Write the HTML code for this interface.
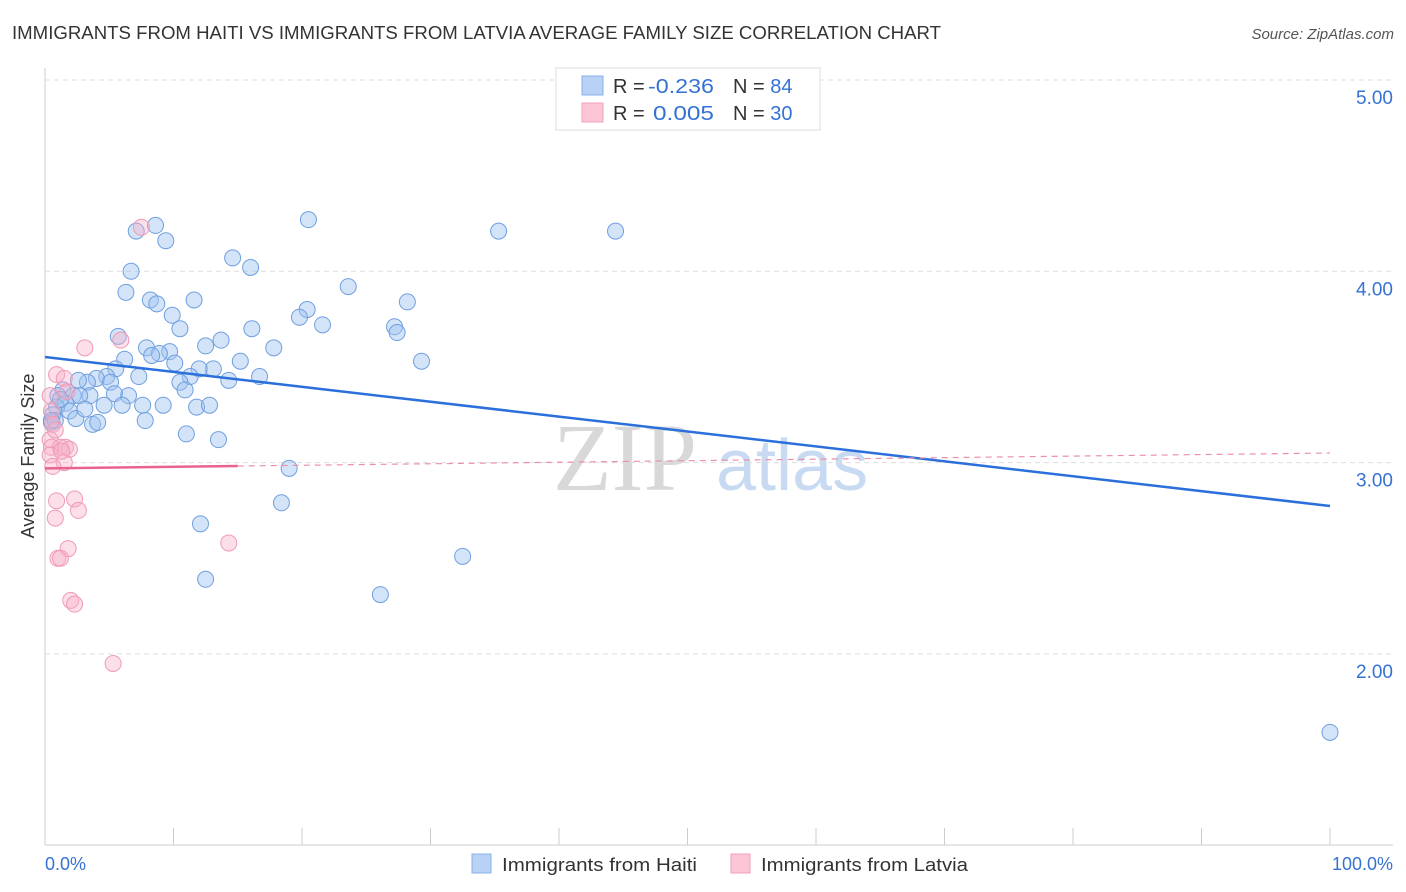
<!DOCTYPE html>
<html><head><meta charset="utf-8">
<style>
body{margin:0;background:#fff;font-family:"Liberation Sans",sans-serif;}
svg{display:block}
</style></head>
<body>
<svg id="chart" width="1406" height="892">
<text x="12" y="39" font-size="18" fill="#333" textLength="929" lengthAdjust="spacingAndGlyphs">IMMIGRANTS FROM HAITI VS IMMIGRANTS FROM LATVIA AVERAGE FAMILY SIZE CORRELATION CHART</text>
<text x="1394" y="39" font-size="15" fill="#555" font-style="italic" text-anchor="end">Source: ZipAtlas.com</text>
<g>
<text x="553" y="490" font-size="96" font-family="Liberation Serif,serif" fill="#d8d8d8">ZIP</text>
<text x="716" y="490" font-size="72" fill="#c8daf2">atlas</text>
</g>
<g id="grid"></g>
<g id="axes"></g>
<g id="pts"></g>
<g id="trend"></g>
<g>
<rect x="556" y="68" width="264" height="62" fill="#fff" stroke="#ddd"/>
<rect x="582" y="76" width="21" height="19" fill="#b8d2f5" stroke="#88b0e8"/>
<rect x="582" y="103" width="21" height="19" fill="#fcc6d6" stroke="#f2a0b8"/>
<text x="613" y="93" font-size="20" fill="#333">R = </text>
<text x="648" y="93" font-size="20" fill="#3572d4" textLength="66" lengthAdjust="spacingAndGlyphs">-0.236</text>
<text x="733" y="93" font-size="20" fill="#333">N = <tspan fill="#3572d4">84</tspan></text>
<text x="613" y="120" font-size="20" fill="#333">R = </text>
<text x="653" y="120" font-size="20" fill="#3572d4" textLength="61" lengthAdjust="spacingAndGlyphs">0.005</text>
<text x="733" y="120" font-size="20" fill="#333">N = <tspan fill="#3572d4">30</tspan></text>
</g>
<text transform="translate(34,456) rotate(-90)" font-size="18" fill="#333" text-anchor="middle">Average Family Size</text>
<text x="45" y="870" font-size="18" fill="#3572d4">0.0%</text>
<text x="1393" y="870" font-size="18" fill="#3572d4" text-anchor="end">100.0%</text>
<g>
<rect x="472" y="854" width="19" height="19" fill="#b8d2f5" stroke="#88b0e8"/>
<text x="502" y="871" font-size="18" fill="#333" textLength="195" lengthAdjust="spacingAndGlyphs">Immigrants from Haiti</text></g>
<g>
<rect x="731" y="854" width="19" height="19" fill="#fcc6d6" stroke="#f2a0b8"/>
<text x="761" y="871" font-size="18" fill="#333" textLength="207" lengthAdjust="spacingAndGlyphs">Immigrants from Latvia</text></g>
</svg>
<script>
const yTicks=[2,3,4,5];
const yTickLabels=["2.00","3.00","4.00","5.00"];
const haitiX=[20.5,35.3,44.4,8.6,7.1,9.4,14.6,16.0,6.7,6.3,23.6,8.2,8.7,11.6,28.2,20.4,19.8,9.9,21.6,27.2,27.4,10.5,16.1,5.7,13.7,12.5,7.9,17.8,9.7,8.9,8.3,6.2,15.2,29.3,10.1,5.5,13.1,12.0,16.7,7.3,11.3,4.8,4.0,14.3,10.5,5.1,3.3,2.6,1.4,10.9,6.5,5.4,1.0,2.2,3.5,2.7,1.6,4.6,6.0,7.6,9.2,11.8,12.8,0.9,1.9,0.6,2.4,3.7,4.1,7.8,0.5,0.8,11.0,13.5,19.0,18.4,12.1,32.5,12.5,26.1,100,0.5,1.2,3.1];
const haitiY=[4.27,4.21,4.21,4.24,4.21,4.16,4.07,4.02,4.00,3.89,3.92,3.85,3.83,3.85,3.84,3.80,3.76,3.77,3.72,3.71,3.68,3.70,3.70,3.66,3.64,3.61,3.60,3.60,3.58,3.57,3.56,3.54,3.53,3.53,3.52,3.49,3.49,3.49,3.45,3.45,3.45,3.45,3.44,3.43,3.42,3.42,3.42,3.43,3.38,3.38,3.35,3.36,3.35,3.35,3.35,3.35,3.31,3.30,3.30,3.30,3.30,3.29,3.30,3.29,3.27,3.25,3.23,3.20,3.21,3.22,3.21,3.22,3.15,3.12,2.97,2.79,2.68,2.51,2.39,2.31,1.59,3.22,3.33,3.28];
const latviaX=[7.5,3.1,5.9,0.9,1.5,1.7,0.5,0.6,0.4,0.5,1.2,1.6,1.9,0.4,1.5,0.6,0.9,2.3,2.6,0.8,1.8,1.0,1.2,2.0,2.3,14.3,5.3,0.8,1.3,0.4];
const latviaY=[4.23,3.60,3.64,3.46,3.44,3.37,3.27,3.20,3.12,3.08,3.08,3.08,3.07,3.04,3.00,2.98,2.80,2.81,2.75,2.71,2.55,2.50,2.50,2.28,2.26,2.58,1.95,3.17,3.06,3.35];
const haitiTrend=[3.552,2.773];
const latviaTrend=[2.97,3.05];
const latviaSolidEnd=15;
const NS="http://www.w3.org/2000/svg";
const xS=v=>45+v*12.85;
const yS=v=>80+(5-v)*191.3;
function mk(tag,attrs,parent){const e=document.createElementNS(NS,tag);for(const k in attrs)e.setAttribute(k,attrs[k]);parent.appendChild(e);return e;}
const grid=document.getElementById('grid'),axes=document.getElementById('axes'),pts=document.getElementById('pts'),tr=document.getElementById('trend');
yTicks.forEach((t,i)=>{
 const l=mk('line',{x1:45,x2:1393,y1:yS(t),y2:yS(t),stroke:'#ddd','stroke-dasharray':'5,4'},grid);
 
 
 const tx=mk('text',{x:1393,y:yS(t)+24,'font-size':19,fill:'#3572d4','text-anchor':'end'},axes);
 tx.textContent=yTickLabels[i];
 
 
});
mk('line',{x1:45,x2:45,y1:68,y2:845,stroke:'#ccc'},axes);
mk('line',{x1:45,x2:1393,y1:845,y2:845,stroke:'#ccc'},axes);
for(let i=0;i<=10;i++){mk('line',{x1:xS(i*10),x2:xS(i*10),y1:828,y2:845,stroke:'#ccc'},axes);}
haitiX.forEach((x,i)=>{
 const c=mk('circle',{cx:xS(x),cy:yS(haitiY[i]),r:8,fill:'rgba(160,196,240,0.45)',stroke:'#6f9fe0','stroke-width':1},pts);
 
 
});
latviaX.forEach((x,i)=>{
 const c=mk('circle',{cx:xS(x),cy:yS(latviaY[i]),r:8,fill:'rgba(248,175,200,0.4)',stroke:'#f09ab5','stroke-width':1},pts);
 
 
});
const bl=mk('line',{x1:xS(0),y1:yS(haitiTrend[0]),x2:xS(100),y2:yS(haitiTrend[1]),stroke:'#2a6fdb','stroke-width':2.5},tr);


const ly=v=>latviaTrend[0]+(latviaTrend[1]-latviaTrend[0])*v/100;
const pd=mk('line',{x1:xS(latviaSolidEnd),y1:yS(ly(latviaSolidEnd)),x2:xS(100),y2:yS(latviaTrend[1]),stroke:'#eb90ac','stroke-width':1.2,'stroke-dasharray':'6,5'},tr);


const ps=mk('line',{x1:xS(0),y1:yS(latviaTrend[0]),x2:xS(latviaSolidEnd),y2:yS(ly(latviaSolidEnd)),stroke:'#e8648f','stroke-width':2.5},tr);


</script>
</body></html>
